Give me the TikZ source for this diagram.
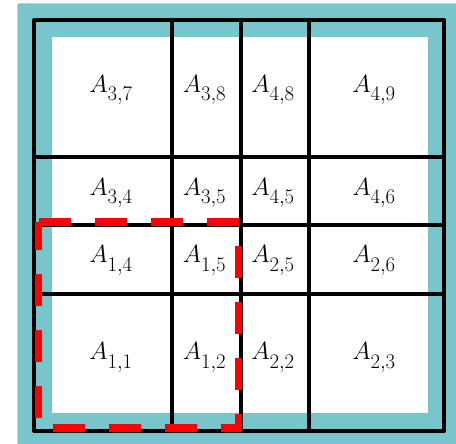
\documentclass[tikz,border=0pt]{standalone}
\definecolor{tealbg}{RGB}{120,197,204}
\newcommand\Asub[1]{$A_{\raisebox{-5pt}{$\scriptstyle #1$}}$}
\tikzset{
  gridline/.style={line width=4pt, black, line join=round},
  reddash/.style={line width=7.5pt, red, dash pattern=on 32pt off 24pt, line cap=butt},
  lab/.style={font=\fontsize{29}{32}\selectfont, inner sep=0pt}
}
\begin{document}
\begin{tikzpicture}[x=1pt,y=-1pt]
\useasboundingbox (0,0) rectangle (456,444);
\fill[tealbg, rounded corners=2pt] (17.3,3.3) rectangle (460,448);
\fill[white] (52,37) rectangle (428,413);
% grid
\draw[gridline] (34,20.5) rectangle (444,431);
\foreach \x in {172,240.5,308.7} \draw[gridline] (\x,20.5) -- (\x,431);
\foreach \y in {157,225.3,294} \draw[gridline] (34,\y) -- (444,\y);
% red dashed region
\coordinate (r1) at (38.5,222);
\coordinate (r2) at (238.5,222);
\coordinate (r3) at (238.5,428);
\coordinate (r4) at (38.5,428);
\draw[reddash] (r1) -- (r2) -- (r3) -- (r4) -- cycle;
% labels
\node[lab] (a37) at (111,90) {\Asub{3,7}};
\node[lab] (a38) at (204.5,90) {\Asub{3,8}};
\node[lab] (a48) at (273,90) {\Asub{4,8}};
\node[lab] (a49) at (374,90) {\Asub{4,9}};
\node[lab] (a34) at (111,193) {\Asub{3,4}};
\node[lab] (a35) at (204.5,193) {\Asub{3,5}};
\node[lab] (a45) at (273,193) {\Asub{4,5}};
\node[lab] (a46) at (374,193) {\Asub{4,6}};
\node[lab] (a14) at (111,260.5) {\Asub{1,4}};
\node[lab] (a15) at (204.5,260.5) {\Asub{1,5}};
\node[lab] (a25) at (273,260.5) {\Asub{2,5}};
\node[lab] (a26) at (374,260.5) {\Asub{2,6}};
\node[lab] (a11) at (111,357.5) {\Asub{1,1}};
\node[lab] (a12) at (204.5,357.5) {\Asub{1,2}};
\node[lab] (a22) at (273,357.5) {\Asub{2,2}};
\node[lab] (a23) at (374,357.5) {\Asub{2,3}};
\end{tikzpicture}
\end{document}
